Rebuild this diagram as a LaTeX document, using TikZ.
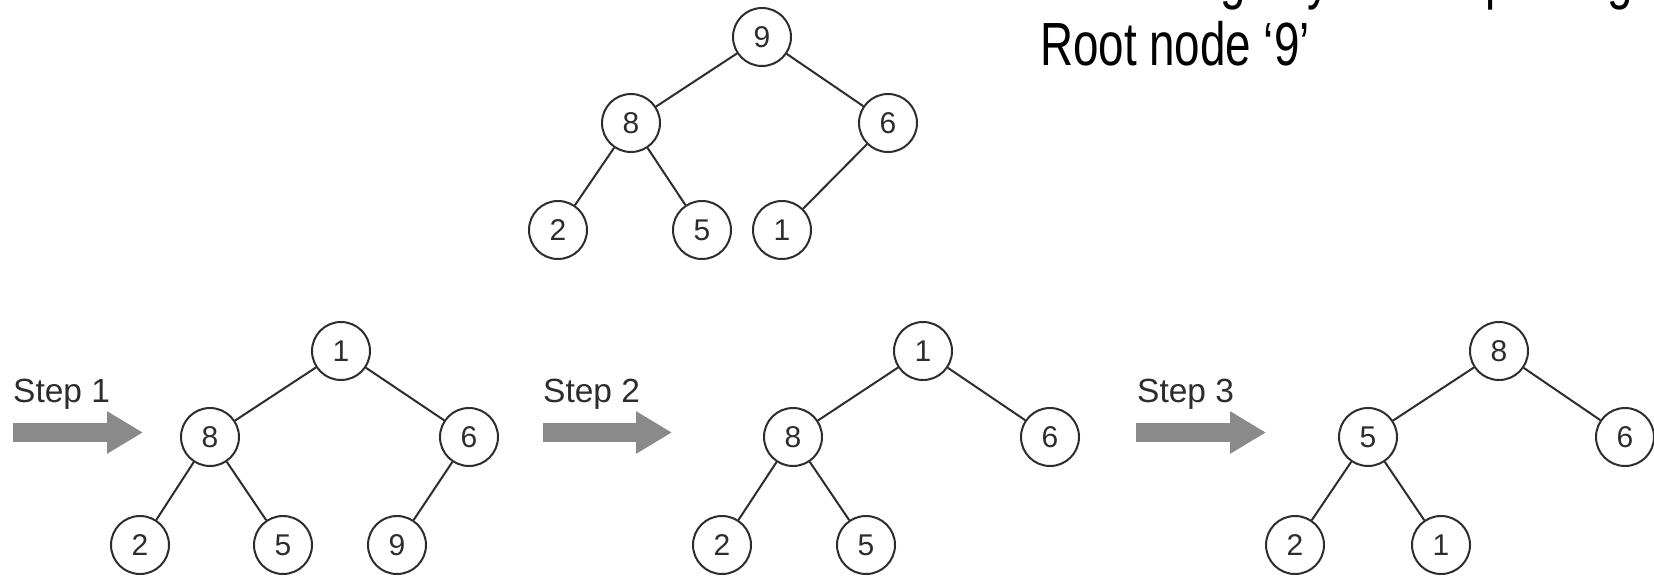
\documentclass[tikz,border=0pt]{standalone}
\usepackage{fontspec}
\setmainfont{Liberation Sans}
\newfontfamily\notefont[FakeStretch=0.75]{Liberation Sans}
\usepackage{tikz}
\usetikzlibrary{arrows.meta}
\definecolor{linegray}{RGB}{45,45,45}
\definecolor{stepgray}{RGB}{138,138,138}
\tikzstyle{vertex}=[circle,draw=linegray,line width=2pt,minimum size=58pt,inner sep=0pt,text=linegray,font=\fontsize{30}{30}\selectfont]
\tikzstyle{edge} = [draw=linegray,line width=2pt,-]
\tikzstyle{steparrow}=[draw=stepgray,line width=19pt,-{Triangle[length=36pt,width=40pt]}]
\tikzstyle{steplabel}=[anchor=base west,inner sep=0pt,text=linegray,font=\fontsize{33.5}{40}\selectfont]
\tikzstyle{note}=[anchor=base west,inner sep=0pt,font=\notefont\fontsize{61}{63}\selectfont]

\begin{document}
\begin{tikzpicture}[x=1pt,y=-1pt]
      \useasboundingbox (0,0) rectangle (1654,576);
      % heap before removal
      \node[vertex] (a9) at (762,37) {9};
      \node[vertex] (a8) at (631,123) {8};
      \node[vertex] (a6) at (888,123) {6};
      \node[vertex] (a2) at (558,230) {2};
      \node[vertex] (a5) at (702,230) {5};
      \node[vertex] (a1) at (782,230) {1};
      \draw[edge] (a9) to (a8);
      \draw[edge] (a9) to (a6);
      \draw[edge] (a8) to (a2);
      \draw[edge] (a8) to (a5);
      \draw[edge] (a6) to (a1);
      \node[note] (title) at (1040,-3) {Removing key from top using};
      \node[note] (root) at (1040,65) {Root node ‘9’};
      % step 1
      \node[steplabel] (s1) at (13,402) {Step 1};
      \coordinate (s1a) at (13,432.5);
      \coordinate (s1b) at (143,432.5);
      \draw[steparrow] (s1a) -- (s1b);
      \node[vertex] (b1) at (341,351) {1};
      \node[vertex] (b8) at (210,437) {8};
      \node[vertex] (b6) at (469,437) {6};
      \node[vertex] (b2) at (140,545) {2};
      \node[vertex] (b5) at (283,545) {5};
      \node[vertex] (b9) at (397,545) {9};
      \draw[edge] (b1) to (b8);
      \draw[edge] (b1) to (b6);
      \draw[edge] (b8) to (b2);
      \draw[edge] (b8) to (b5);
      \draw[edge] (b6) to (b9);
      % step 2
      \node[steplabel] (s2) at (543,402) {Step 2};
      \coordinate (s2a) at (543,432.5);
      \coordinate (s2b) at (672,432.5);
      \draw[steparrow] (s2a) -- (s2b);
      \node[vertex] (c1) at (923,351) {1};
      \node[vertex] (c8) at (793,437) {8};
      \node[vertex] (c6) at (1050,437) {6};
      \node[vertex] (c2) at (722,545) {2};
      \node[vertex] (c5) at (866,545) {5};
      \draw[edge] (c1) to (c8);
      \draw[edge] (c1) to (c6);
      \draw[edge] (c8) to (c2);
      \draw[edge] (c8) to (c5);
      % step 3
      \node[steplabel] (s3) at (1137,402) {Step 3};
      \coordinate (s3a) at (1136,432.5);
      \coordinate (s3b) at (1266,432.5);
      \draw[steparrow] (s3a) -- (s3b);
      \node[vertex] (d8) at (1499,351) {8};
      \node[vertex] (d5) at (1368,437) {5};
      \node[vertex] (d6) at (1625,437) {6};
      \node[vertex] (d2) at (1295,545) {2};
      \node[vertex] (d1) at (1441,545) {1};
      \draw[edge] (d8) to (d5);
      \draw[edge] (d8) to (d6);
      \draw[edge] (d5) to (d2);
      \draw[edge] (d5) to (d1);
\end{tikzpicture}
\end{document}
